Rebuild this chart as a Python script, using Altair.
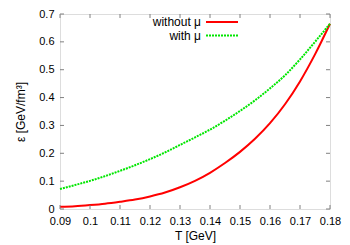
import altair as alt
import pandas as pd

T = [0.09, 0.095, 0.10, 0.105, 0.11, 0.115, 0.12, 0.125, 0.13, 0.135,
     0.14, 0.145, 0.15, 0.155, 0.16, 0.165, 0.17, 0.175, 0.18]
without_mu = [0.008, 0.010, 0.014, 0.019, 0.026, 0.034, 0.045, 0.059, 0.078, 0.101,
              0.130, 0.165, 0.205, 0.252, 0.308, 0.376, 0.458, 0.555, 0.665]
with_mu = [0.072, 0.086, 0.101, 0.118, 0.137, 0.157, 0.179, 0.203, 0.230, 0.257,
           0.285, 0.317, 0.352, 0.390, 0.433, 0.480, 0.537, 0.600, 0.665]
x_ticks = [0.09, 0.1, 0.11, 0.12, 0.13, 0.14, 0.15, 0.16, 0.17, 0.18]
y_ticks = [0, 0.1, 0.2, 0.3, 0.4, 0.5, 0.6, 0.7]
series_names = ["without μ", "with μ"]
series_colors = ["#ff0000", "#00e600"]

W, H = 270, 195
FONT = "Liberation Sans"
TICK = 4

df = pd.DataFrame({"T": T, "without": without_mu, "with": with_mu})
xt = pd.DataFrame({"v": x_ticks})
yt = pd.DataFrame({"v": y_ticks})
one = pd.DataFrame({"a": [0]})

xs = alt.Scale(domain=[0.09, 0.18], nice=False, zero=False)
ys = alt.Scale(domain=[0, 0.7], nice=False)

xaxis = alt.Axis(values=x_ticks, labelExpr="toString(datum.value)", domain=False,
                 ticks=False, grid=False, labelFont=FONT, labelFontSize=11,
                 labelColor="black", labelPadding=6, labelOverlap=False,
                 labelFlush=False, title="T [GeV]",
                 titleFont=FONT, titleFontSize=12, titleFontWeight="normal",
                 titleColor="black", titlePadding=4)
yaxis = alt.Axis(values=y_ticks, labelExpr="toString(datum.value)", domain=False,
                 ticks=False, grid=False, labelFont=FONT, labelFontSize=11,
                 labelColor="black", labelPadding=6, labelOverlap=False,
                 labelFlush=False, title="ε [GeV/fm³]",
                 titleFont=FONT, titleFontSize=12, titleFontWeight="normal",
                 titleColor="black", titlePadding=11)

red = alt.Chart(df).mark_line(color=series_colors[0], strokeWidth=2,
                              interpolate="monotone").encode(
    x=alt.X("T:Q", scale=xs, axis=xaxis, title="T [GeV]"),
    y=alt.Y("without:Q", scale=ys, axis=yaxis, title="ε [GeV/fm³]"),
)
green = alt.Chart(df).mark_line(color=series_colors[1], strokeWidth=2,
                                strokeDash=[2, 1], interpolate="monotone").encode(
    x=alt.X("T:Q", scale=xs, axis=xaxis, title="T [GeV]"),
    y=alt.Y("with:Q", scale=ys, axis=yaxis, title="ε [GeV/fm³]"),
)

tick_color = "#808080"
xb = alt.Chart(xt).mark_rule(color=tick_color).encode(
    x=alt.X("v:Q", scale=xs, axis=xaxis, title="T [GeV]"),
    y=alt.value(H), y2=alt.value(H - TICK))
xtop = alt.Chart(xt).mark_rule(color=tick_color).encode(
    x=alt.X("v:Q", scale=xs, axis=xaxis, title="T [GeV]"),
    y=alt.value(0), y2=alt.value(TICK))
yl = alt.Chart(yt).mark_rule(color=tick_color).encode(
    y=alt.Y("v:Q", scale=ys, axis=yaxis, title="ε [GeV/fm³]"),
    x=alt.value(0), x2=alt.value(TICK))
yr = alt.Chart(yt).mark_rule(color=tick_color).encode(
    y=alt.Y("v:Q", scale=ys, axis=yaxis, title="ε [GeV/fm³]"),
    x=alt.value(W), x2=alt.value(W - TICK))

leg_layers = []
for i, (name, col) in enumerate(zip(series_names, series_colors)):
    yy = 8 + i * 13.5
    leg_layers.append(alt.Chart(one).mark_text(
        text=name, align="right", baseline="middle", font=FONT, fontSize=12,
        color="black").encode(x=alt.value(141), y=alt.value(yy)))
    rule_kwargs = dict(color=col, strokeWidth=2)
    if i == 1:
        rule_kwargs["strokeDash"] = [2, 1]
    leg_layers.append(alt.Chart(one).mark_rule(**rule_kwargs).encode(
        x=alt.value(146), x2=alt.value(178), y=alt.value(yy)))

chart = alt.layer(red, green, xb, xtop, yl, yr, *leg_layers).properties(
    width=W, height=H,
    autosize=alt.AutoSizeParams(type="none"),
    padding={"left": 52, "top": 6, "right": 12, "bottom": 37},
).configure_view(stroke="#808080", strokeWidth=1.2).configure_axis(
    labelOverlap=False).configure(background="white")

chart.save("out.html", embed_options={"renderer": "svg", "actions": False})
